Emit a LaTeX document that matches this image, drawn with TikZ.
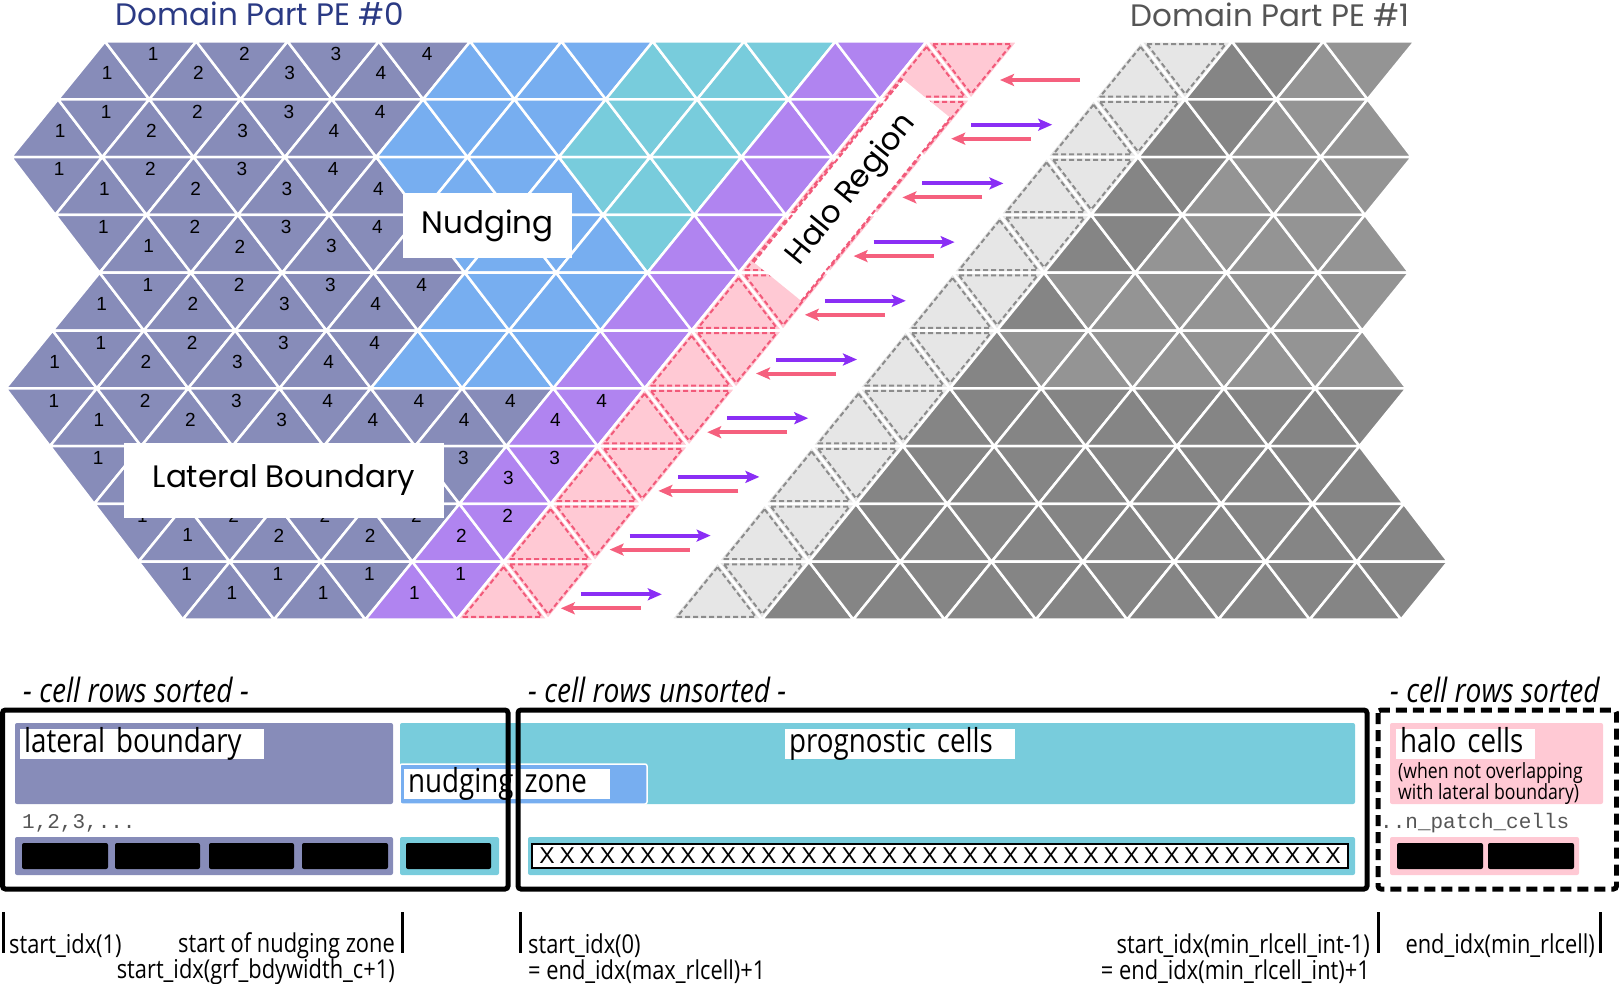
\documentclass[tikz,border=0pt]{standalone}
\usepackage{fontspec}
\usepackage{tikz}
\usetikzlibrary{arrows.meta,calc}
\newfontfamily\condsans{Open Sans}[FakeStretch=0.84]
\newfontfamily\geosans{Poppins}
\newfontfamily\numsans{Liberation Sans}
\newfontfamily\idxmono{Liberation Mono}

\definecolor{lbcol}{HTML}{878CB9}
\definecolor{nucol}{HTML}{77AEF0}
\definecolor{prcol}{HTML}{78CCDC}
\definecolor{incol}{HTML}{B084F0}
\definecolor{hacol}{HTML}{FFC9D4}
\definecolor{hadash}{HTML}{F25A7A}
\definecolor{ghcol}{HTML}{E6E6E6}
\definecolor{ghdash}{HTML}{8C8C8C}
\definecolor{recol}{HTML}{858585}
\definecolor{relite}{HTML}{949494}
\definecolor{sendcol}{HTML}{8A2EF5}
\definecolor{recvcol}{HTML}{F5607E}
\definecolor{pe0col}{HTML}{2B3A84}
\definecolor{pe1col}{HTML}{555555}

\tikzstyle{cellbase} = [draw=white, line width=2.5pt, line join=round]
\tikzstyle{latbnd} = [cellbase, fill=lbcol]
\tikzstyle{nudge} = [cellbase, fill=nucol]
\tikzstyle{prog} = [cellbase, fill=prcol]
\tikzstyle{interior} = [cellbase, fill=incol]
\tikzstyle{halo} = [cellbase, fill=hacol]
\tikzstyle{ghost} = [cellbase, fill=ghcol]
\tikzstyle{remote} = [cellbase, fill=recol]
\tikzstyle{halodash} = [draw=hadash, line width=2pt, dash pattern=on 5pt off 3pt, line join=round]
\tikzstyle{ghostdash} = [draw=ghdash, line width=2pt, dash pattern=on 5pt off 3pt, line join=round]
\tikzstyle{cellnum} = [inner sep=0pt, xshift=3pt, yshift=7pt, font=\numsans\fontsize{19}{19}\selectfont]
\tikzstyle{meshlabel} = [fill=white, inner sep=0pt, font=\geosans\fontsize{31}{31}\selectfont]
\tikzstyle{pehead} = [inner sep=0pt, font=\geosans\fontsize{31}{31}\selectfont]
\tikzstyle{sendarrow} = [->, draw=sendcol, line width=4pt]
\tikzstyle{recvarrow} = [->, draw=recvcol, line width=4pt]
\tikzstyle{membox} = [draw=black, line width=5pt, rounded corners=3pt]
\tikzstyle{cellbar} = [rounded corners=2pt]
\tikzstyle{idxblock} = [fill=black, rounded corners=2pt]
\tikzstyle{barlabel} = [fill=white, anchor=west, align=left, inner xsep=4pt, inner ysep=0pt, text height=23pt, text depth=7pt, font=\condsans\fontsize{33}{33}\selectfont]
\tikzstyle{rowhead} = [anchor=west, inner sep=0pt, font=\condsans\itshape\fontsize{33.5}{33.5}\selectfont]
\tikzstyle{idxtext} = [inner sep=0pt, font=\condsans\fontsize{26}{26}\selectfont]
\tikzstyle{monotext} = [anchor=west, inner sep=0pt, text=pe1col, font=\idxmono\fontsize{21}{21}\selectfont]
\tikzstyle{idxtick} = [draw=black, line width=3pt]

\newcommand\meshcell[4]{%
  \pgfmathtruncatemacro\ti{floor(#2/2)}%
  \pgfmathtruncatemacro\tp{mod(#2,2)}%
  \coordinate (A) at ({#1+91.3*\ti-47*#3},{41.5+57.8*#3});
  \coordinate (B) at ({#1+91.3*(\ti+\tp)-47*(#3+1-\tp)},{41.5+57.8*(#3+1-\tp)});
  \coordinate (C) at ({#1+91.3*(\ti+1)-47*(#3+1)},{41.5+57.8*(#3+1)});
  \coordinate (M) at (barycentric cs:A=1,B=1,C=1);
  \path[#4] (A) -- (B) -- (C) -- cycle;
}

\begin{document}
\begin{tikzpicture}[x=1pt,y=-1pt,>={Stealth[length=14pt,width=12pt,inset=3pt]}]
  \useasboundingbox (0,0) rectangle (1619,984);

  \foreach \row/\first/\lastlb/\firstpr in {0/0/7/12,1/0/7/12,2/1/8/13,3/3/10/15,4/4/11/16,5/4/11/16,6/5/15/16,7/7/15/16,8/9/15/16,9/11/15/16}{
    \foreach \h in {\first,...,19}{
      \ifnum\h>17
        \meshcell{105}{\h}{\row}{halo}
        \draw[halodash] ($(M)!0.86!(A)$) -- ($(M)!0.86!(B)$) -- ($(M)!0.86!(C)$) -- cycle;
      \else\ifnum\h>15
        \meshcell{105}{\h}{\row}{interior}
        \ifnum\row>5 \node[cellnum] (n\row-\h) at (M) {\the\numexpr10-\row\relax}; \fi
      \else\ifnum\h<\firstpr
        \ifnum\h>\lastlb
          \meshcell{105}{\h}{\row}{nudge}
        \else
          \meshcell{105}{\h}{\row}{latbnd}
          \pgfmathtruncatemacro\lv{min(floor((\h-\first)/2)+1,min(4,10-\row))}
          \pgfmathtruncatemacro\hide{((\row==7)&&(\h>7)&&(\h<15))||((\row==3)&&(\h==10))}
          \ifnum\hide=0 \node[cellnum] (n\row-\h) at (M) {\lv}; \fi
        \fi
      \else
        \meshcell{105}{\h}{\row}{prog}
      \fi\fi\fi
    }
  }

  \foreach \row/\last/\lite in {0/5/4,1/6/4,2/7/4,3/8/4,4/9/3,5/10/3,6/11/99,7/12/99,8/14/99,9/15/99}{
    \foreach \h in {0,...,\last}{
      \ifnum\h<2
        \meshcell{1140.7}{\h}{\row}{ghost}
        \draw[ghostdash] ($(M)!0.86!(A)$) -- ($(M)!0.86!(B)$) -- ($(M)!0.86!(C)$) -- cycle;
      \else\ifnum\h<\lite
        \meshcell{1140.7}{\h}{\row}{remote}
      \else
        \meshcell{1140.7}{\h}{\row}{remote, fill=relite}
      \fi\fi
    }
  }

  \node[meshlabel, minimum width=169pt, minimum height=65pt] (nudging) at (487.5,225.5) {Nudging};
  \node[meshlabel, minimum width=320pt, minimum height=75pt] (latbound) at (284,480.5) {Lateral Boundary};
  \node[meshlabel, rotate=50.9, minimum width=236pt, minimum height=61pt] (haloreg) at (852,190) {Halo Region};
  \draw[halodash] (haloreg.north west) -- (haloreg.north east);
  \draw[halodash] (haloreg.south west) -- (haloreg.south east);

  \foreach \k in {0,...,9}{
    \coordinate (rt\k) at ({1080-48.8*\k},{80+58.7*\k});
    \coordinate (rh\k) at ({1000-48.8*\k},{80+58.7*\k});
    \draw[recvarrow] (rt\k) -- (rh\k);
  }
  \foreach \k in {1,...,9}{
    \coordinate (st\k) at ({1020-48.8*\k},{66+58.7*\k});
    \coordinate (sh\k) at ({1101-48.8*\k},{66+58.7*\k});
    \draw[sendarrow] (st\k) -- (sh\k);
  }

  \node[pehead, text=pe0col] (pe0) at (260,14) {Domain Part PE \#0};
  \node[pehead, text=pe1col] (pe1) at (1270,15) {Domain Part PE \#1};

  \node[rowhead] (sorted0) at (23,690) {- cell rows sorted -};
  \node[rowhead] (unsorted) at (528,690) {- cell rows unsorted -};
  \node[rowhead] (sorted1) at (1390,690) {- cell rows sorted};

  \fill[cellbar, lbcol] (15,723) rectangle (393,804);
  \fill[cellbar, prcol] (400,723) rectangle (1355,804);
  \filldraw[cellbar, fill=nucol, draw=white, line width=1.5pt] (400,764) rectangle (647,804);
  \fill[cellbar, hacol] (1390,723) rectangle (1603,804);

  \node[barlabel, text width=236pt] (lbtxt) at (20,744) {lateral boundary};
  \node[barlabel, text width=198pt] (nutxt) at (404,784) {nudging zone};
  \node[barlabel, text width=222pt] (prtxt) at (785,744) {prognostic cells};
  \node[barlabel, text width=131pt] (hatxt) at (1396,744) {halo cells};
  \node[anchor=north west, align=left, inner sep=0pt, font=\condsans\fontsize{21}{21.3}\selectfont] (hanote) at (1398,762) {(when not overlapping\\with lateral boundary)};

  \node[monotext] (firstrows) at (22,823) {1,2,3,...};
  \node[monotext] (lastrows) at (1380,823) {..n\_patch\_cells};

  \fill[cellbar, lbcol] (15,837) rectangle (393,875);
  \fill[cellbar, prcol] (400,837) rectangle (499,875);
  \fill[cellbar, prcol] (528,837) rectangle (1355,875);
  \fill[cellbar, hacol] (1390,837) rectangle (1579,875);
  \foreach \a/\b in {22/108,115/200,209/294,302/388,406/491,1397/1483,1488/1574}
    \fill[idxblock] (\a,843) rectangle (\b,869);
  \node[draw=black, fill=white, line width=2.5pt, minimum width=816pt, minimum height=24pt, inner sep=0pt, font=\numsans\fontsize{23}{23}\selectfont] (xrow) at (940,856) {\hbox to 806pt{\cleaders\hbox to 20.15pt{\hss X\hss}\hfill}};

  \draw[membox] (2.5,710) rectangle (508,889);
  \draw[membox] (518,710) rectangle (1367,889);
  \draw[membox, dash pattern=on 11pt off 6pt] (1378,710) rectangle (1616.5,889);

  \foreach \t in {3,402,520,1378,1600}
    \draw[idxtick] (\t,912) -- (\t,953);
  \node[idxtext, anchor=west] (s1) at (9,946) {start\_idx(1)};
  \node[idxtext, anchor=east] (snz) at (395,946) {start of nudging zone};
  \node[idxtext, anchor=east] (sgrf) at (395,972) {start\_idx(grf\_bdywidth\_c+1)};
  \node[idxtext, anchor=west] (s0) at (528,946) {start\_idx(0)};
  \node[idxtext, anchor=west] (emax) at (528,972) {= end\_idx(max\_rlcell)+1};
  \node[idxtext, anchor=east] (sint) at (1370,946) {start\_idx(min\_rlcell\_int-1)};
  \node[idxtext, anchor=east] (eint) at (1370,972) {= end\_idx(min\_rlcell\_int)+1};
  \node[idxtext, anchor=east] (emin) at (1595,946) {end\_idx(min\_rlcell)};
\end{tikzpicture}
\end{document}
